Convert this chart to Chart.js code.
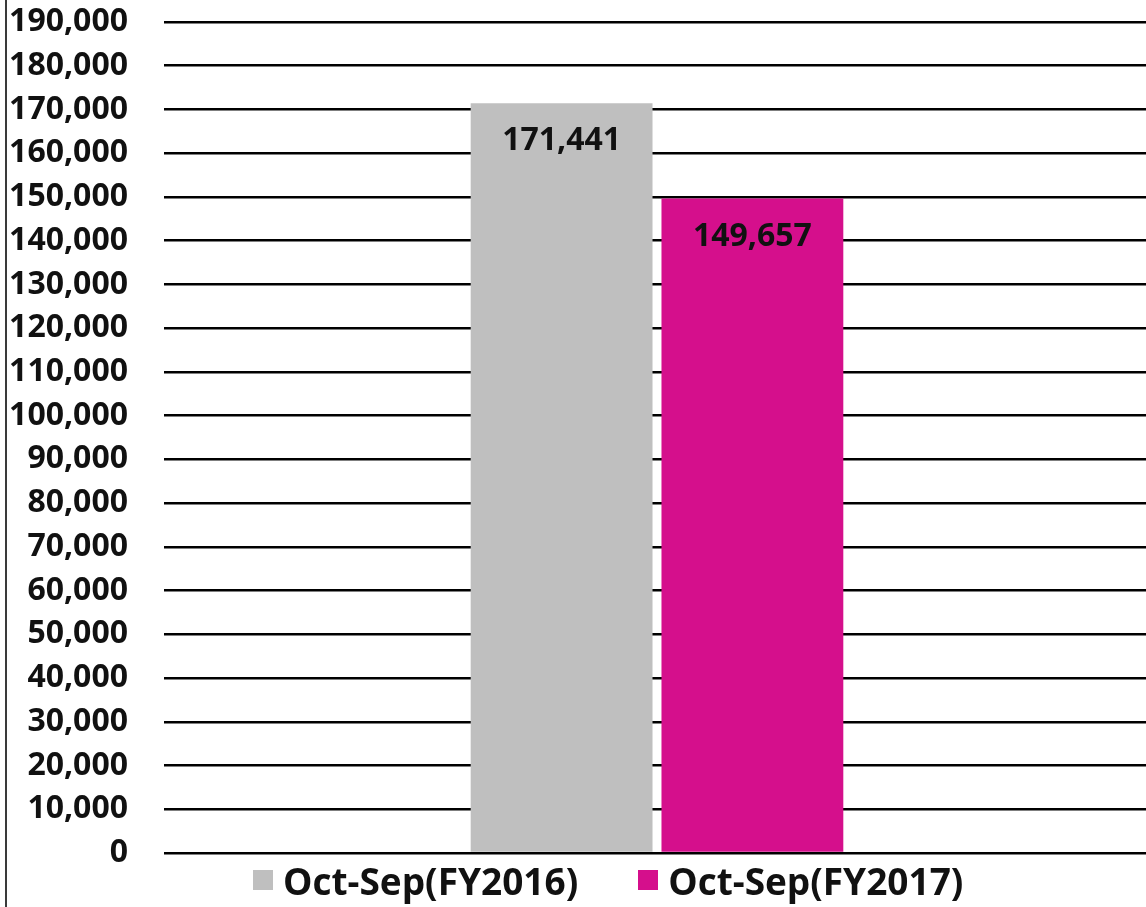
<!DOCTYPE html>
<html>
<head>
<meta charset="utf-8">
<script src="https://cdn.jsdelivr.net/npm/chart.js@4"></script>
<style>
  html, body { margin: 0; padding: 0; background: #fff; overflow: hidden; }
  #wrap { position: relative; width: 1150px; height: 907px; }
  #frame { position: absolute; left: 5px; top: 0; width: 2px; height: 907px; background: #3a3a3a; }
  #legend {
    position: absolute; left: 253px; top: 861px; height: 38px;
    display: flex; align-items: center;
    font: 700 37px "Open Sans", sans-serif; color: #111;
  }
  .item { display: flex; align-items: center; margin-right: 60px; }
  .swatch { width: 20px; height: 20px; margin-right: 10px; }
</style>
</head>
<body>
<div id="wrap">
  <canvas id="chart" width="1150" height="907"></canvas>
  <div id="frame"></div>
  <div id="legend"></div>
</div>
<script>
const categories = [''];
const seriesNames = ['Oct-Sep(FY2016)', 'Oct-Sep(FY2017)'];
const seriesValues = [[171441], [149657]];
const seriesColors = ['#BFBFBF', '#D50F8C'];

const yMin = 0;
const yMax = 190000;
const yStep = 10000;

const FONT = '"Open Sans", sans-serif';

// 막대 위 값 표시
const valueLabels = {
  id: 'valueLabels',
  afterDatasetsDraw(chart) {
    const ctx = chart.ctx;
    ctx.save();
    ctx.font = `700 32px ${FONT}`;
    ctx.fillStyle = '#111';
    ctx.textAlign = 'center';
    ctx.textBaseline = 'middle';
    chart.data.datasets.forEach((ds, i) => {
      chart.getDatasetMeta(i).data.forEach((bar, j) => {
        ctx.fillText(Number(ds.data[j]).toLocaleString('en-US'), bar.x, bar.y + 38);
      });
    });
    ctx.restore();
  },
};

new Chart(document.getElementById('chart'), {
  type: 'bar',
  data: {
    labels: categories,
    datasets: seriesNames.map((name, i) => ({
      label: name,
      data: seriesValues[i],
      backgroundColor: seriesColors[i],
      categoryPercentage: 0.387,
      barPercentage: 0.953,
    })),
  },
  options: {
    responsive: false,
    animation: false,
    layout: { padding: { top: 22, bottom: 54, left: 0, right: 0 } },
    plugins: { legend: { display: false }, tooltip: { enabled: false } },
    scales: {
      x: { display: false },
      y: {
        min: yMin,
        max: yMax,
        afterFit: (s) => { s.width = 164; },
        border: { display: false },
        grid: { color: '#000', lineWidth: 2.5, drawTicks: true, tickLength: 36, tickColor: 'rgba(0,0,0,0)' },
        ticks: {
          stepSize: yStep,
          padding: 0,
          color: '#111',
          font: { family: FONT, size: 32, weight: '700' },
          callback: (v) => Number(v).toLocaleString('en-US'),
        },
      },
    },
  },
  plugins: [valueLabels],
});

// 범례
document.getElementById('legend').innerHTML = seriesNames.map((name, i) =>
  `<div class="item"><span class="swatch" style="background:${seriesColors[i]}"></span>${name}</div>`
).join('');
</script>
</body>
</html>
